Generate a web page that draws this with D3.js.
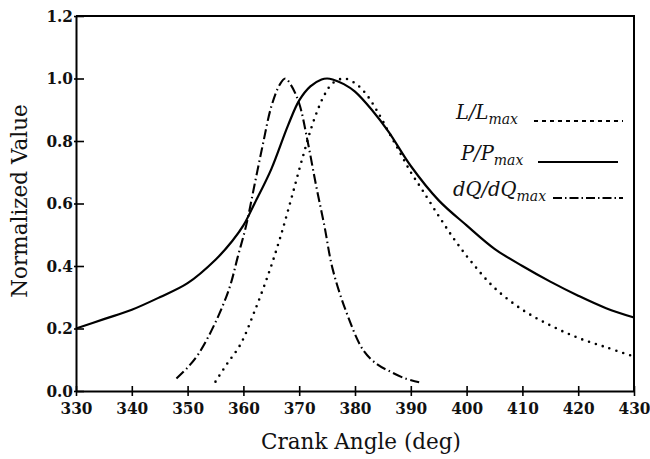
<!DOCTYPE html>
<html>
<head>
<meta charset="utf-8">
<script src="https://cdn.jsdelivr.net/npm/d3@7"></script>
<style>
  html, body { margin: 0; padding: 0; background: #fff; }
  svg text { font-family: "DejaVu Serif", "Liberation Serif", serif; fill: #111; }
</style>
</head>
<body>
<svg id="chart" width="650" height="459"></svg>
<script>
/*** DATA ***/
// P / Pmax (solid)
const pAngle = [330, 335, 340, 345, 350, 355, 358, 360, 362, 365, 368, 370, 372, 374, 375, 376, 378, 380, 383, 386, 390, 395, 400, 405, 410, 415, 420, 425, 430];
const pValue = [0.20, 0.23, 0.26, 0.30, 0.345, 0.42, 0.48, 0.53, 0.60, 0.71, 0.85, 0.93, 0.975, 0.997, 1.0, 0.997, 0.982, 0.958, 0.90, 0.83, 0.72, 0.61, 0.53, 0.455, 0.40, 0.35, 0.305, 0.265, 0.235];

// L / Lmax (dotted)
const lAngle = [355, 357, 359.5, 362, 364.5, 366.5, 368.5, 370.5, 372.7, 374.6, 376, 378, 380, 382, 384, 386, 388, 390, 392, 395, 398, 401, 405, 410, 415, 420, 425, 430];
const lValue = [0.03, 0.085, 0.15, 0.255, 0.375, 0.485, 0.61, 0.74, 0.87, 0.95, 0.985, 1.0, 0.985, 0.95, 0.895, 0.83, 0.765, 0.70, 0.645, 0.56, 0.48, 0.41, 0.33, 0.26, 0.21, 0.17, 0.14, 0.11];

// dQ / dQmax (dash-dot)
const qAngle = [348, 350, 352, 355, 357.5, 359, 360.5, 362, 363.5, 365, 366.5, 367.5, 368.5, 370, 371.5, 373, 374.5, 376, 378.5, 381.5, 384, 386, 389, 391.5];
const qValue = [0.04, 0.075, 0.12, 0.22, 0.33, 0.43, 0.53, 0.66, 0.79, 0.91, 0.98, 1.0, 0.98, 0.92, 0.80, 0.66, 0.53, 0.39, 0.25, 0.13, 0.085, 0.065, 0.04, 0.028];

const xTicks = [330, 340, 350, 360, 370, 380, 390, 400, 410, 420, 430];
const yTicks = [0, 0.2, 0.4, 0.6, 0.8, 1.0, 1.2];

/*** LAYOUT ***/
const margin = {top: 16, right: 16, bottom: 68, left: 76};
const W = 650, H = 459;
const width = W - margin.left - margin.right;
const height = H - margin.top - margin.bottom;
const tickFont = '"DejaVu Serif Condensed", "DejaVu Serif", serif';

const svg = d3.select('#chart');
const g = svg.append('g').attr('transform', `translate(${margin.left},${margin.top})`);

const x = d3.scaleLinear().domain([330, 430]).range([0, width]);
const y = d3.scaleLinear().domain([0, 1.2]).range([height, 0]);

// frame (top and right)
g.append('path')
  .attr('d', `M0,0H${width}V${height}`)
  .attr('fill', 'none').attr('stroke', '#000').attr('stroke-width', 2);

// x axis, ticks crossing the line
const xAxis = g.append('g').attr('transform', `translate(0,${height})`)
  .call(d3.axisBottom(x).tickValues(xTicks).tickFormat(d3.format('d')).tickSize(5).tickSizeOuter(0));
xAxis.selectAll('.tick line').attr('y1', -5).attr('stroke-width', 1.6);
xAxis.select('.domain').attr('stroke-width', 2);
xAxis.selectAll('.tick text').attr('y', 11).attr('dy', '0.71em');

// y axis
const yAxis = g.append('g')
  .call(d3.axisLeft(y).tickValues(yTicks).tickFormat(d3.format('.1f')).tickSize(2).tickSizeOuter(0));
yAxis.selectAll('.tick line').attr('x2', 8).attr('x1', -2).attr('stroke-width', 1.6);
yAxis.select('.domain').attr('stroke-width', 2);
yAxis.selectAll('.tick text').attr('x', -3);

g.selectAll('.tick text')
  .style('font-family', tickFont)
  .style('font-stretch', 'condensed')
  .style('font-weight', 'bold')
  .style('font-size', '17px');

// axis titles
svg.append('text')
  .attr('x', 361).attr('y', 449)
  .attr('text-anchor', 'middle')
  .attr('font-size', 21.5)
  .text('Crank Angle (deg)');

svg.append('text')
  .attr('transform', 'translate(27,201) rotate(-90)')
  .attr('text-anchor', 'middle')
  .attr('font-size', 21.5)
  .text('Normalized Value');

/*** CURVES ***/
const line = d3.line()
  .x(d => x(d[0]))
  .y(d => y(d[1]))
  .curve(d3.curveCatmullRom);

const series = [
  {key: 'P', data: d3.zip(pAngle, pValue), dash: null, width: 2.2, cap: 'butt'},
  {key: 'L', data: d3.zip(lAngle, lValue), dash: '0,7.2', width: 2.6, cap: 'round'},
  {key: 'Q', data: d3.zip(qAngle, qValue), dash: '10,3.5,1.5,3.5', width: 2.1, cap: 'butt'}
];

g.selectAll('path.curve')
  .data(series)
  .enter().append('path')
    .attr('class', 'curve')
    .attr('fill', 'none')
    .attr('stroke', '#000')
    .attr('stroke-width', d => d.width)
    .attr('stroke-linecap', d => d.cap)
    .attr('stroke-dasharray', d => d.dash)
    .attr('d', d => line(d.data));

/*** LEGEND ***/
const legendItems = [
  {num: 'L/L', y: 119, x: 456, x1: 534, x2: 623, dash: '4,4'},
  {num: 'P/P', y: 160, x: 461, x1: 538, x2: 618, dash: null},
  {num: 'dQ/dQ', y: 196, x: 453, x1: 553, x2: 623, dash: '9,3,1.5,3'}
];

const leg = svg.append('g');
legendItems.forEach(it => {
  const t = leg.append('text')
    .attr('x', it.x).attr('y', it.y)
    .attr('font-size', 19.5).attr('font-style', 'italic');
  t.append('tspan').text(it.num);
  t.append('tspan').attr('dy', 5).attr('font-size', 14).text('max');
  leg.append('line')
    .attr('x1', it.x1).attr('x2', it.x2)
    .attr('y1', it.y + 2).attr('y2', it.y + 2)
    .attr('stroke', '#000').attr('stroke-width', 1.8)
    .attr('stroke-dasharray', it.dash);
});
</script>
</body>
</html>
